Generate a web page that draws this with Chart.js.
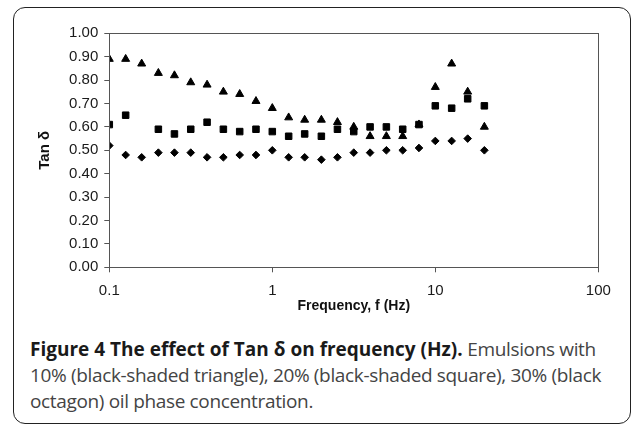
<!DOCTYPE html>
<html>
<head>
<meta charset="utf-8">
<script src="https://cdn.jsdelivr.net/npm/chart.js@4/dist/chart.umd.min.js"></script>
<style>
  html, body { margin: 0; padding: 0; background: #fff; width: 633px; height: 424px; overflow: hidden; }
  #wrap { position: relative; width: 633px; height: 424px; }
  #frame { position: absolute; left: 13px; top: 7px; width: 616px; height: 415px; border: 1.5px solid #222; border-radius: 12px; }
  #c { position: absolute; left: 0; top: 0; }
  #cap { position: absolute; left: 30px; top: 336px; font-family: "Open Sans", "Noto Sans", sans-serif; font-size: 19px; line-height: 26px; color: #444; white-space: nowrap; letter-spacing: -0.35px; }
  #cap b { color: #1a1a1a; font-weight: 700; letter-spacing: 0; }
</style>
</head>
<body>
<div id="wrap">
  <div id="frame"></div>
  <canvas id="c" width="633" height="320"></canvas>
  <div id="cap"><b>Figure 4 The effect of Tan δ on frequency (Hz).</b> Emulsions with<br>10% (black-shaded triangle), 20% (black-shaded square), 30% (black<br>octagon) oil phase concentration.</div>
</div>
<script>
const frequency = [0.1, 0.126, 0.158, 0.2, 0.251, 0.316, 0.398, 0.501, 0.631, 0.794, 1, 1.26, 1.58, 2, 2.51, 3.16, 3.98, 5.01, 6.31, 7.94, 10, 12.6, 15.8, 20];
const tan10 = [0.89, 0.89, 0.87, 0.83, 0.82, 0.79, 0.78, 0.75, 0.74, 0.71, 0.68, 0.64, 0.63, 0.63, 0.62, 0.60, 0.56, 0.56, 0.56, 0.61, 0.77, 0.87, 0.75, 0.60];
const tan20 = [0.61, 0.65, null, 0.59, 0.57, 0.59, 0.62, 0.59, 0.58, 0.59, 0.58, 0.56, 0.57, 0.56, 0.59, 0.58, 0.60, 0.60, 0.59, 0.61, 0.69, 0.68, 0.72, 0.69];
const tan30 = [0.52, 0.48, 0.47, 0.49, 0.49, 0.49, 0.47, 0.47, 0.48, 0.48, 0.50, 0.47, 0.47, 0.46, 0.47, 0.49, 0.49, 0.50, 0.50, 0.51, 0.54, 0.54, 0.55, 0.50];
const xTickValues = [0.1, 1, 10, 100];
const xTickLabels = ["0.1", "1", "10", "100"];
const yTickValues = [0, 0.1, 0.2, 0.3, 0.4, 0.5, 0.6, 0.7, 0.8, 0.9, 1.0];
const yTickLabels = ["0.00", "0.10", "0.20", "0.30", "0.40", "0.50", "0.60", "0.70", "0.80", "0.90", "1.00"];
const seriesNames = ["10%", "20%", "30%"];

function pts(arr) {
  const out = [];
  frequency.forEach((f, i) => { if (arr[i] !== null) out.push({ x: f, y: arr[i] }); });
  return out;
}

const boxPlugin = {
  id: 'box',
  afterDraw(chart) {
    const a = chart.chartArea, ctx = chart.ctx;
    ctx.save();
    ctx.strokeStyle = '#555';
    ctx.lineWidth = 1;
    ctx.strokeRect(Math.round(a.left) + 0.5, Math.round(a.top) + 0.5, Math.round(a.right - a.left), Math.round(a.bottom - a.top));
    ctx.restore();
  }
};

const tickFont = { family: "'Liberation Sans', Arial, sans-serif", size: 15 };

new Chart(document.getElementById('c'), {
  type: 'scatter',
  data: {
    datasets: [
      { label: seriesNames[0], data: pts(tan10), pointStyle: 'triangle', pointRadius: 4.6, backgroundColor: '#000', borderColor: '#000', borderWidth: 1 },
      { label: seriesNames[1], data: pts(tan20), pointStyle: 'rect', pointRadius: 4.6, backgroundColor: '#000', borderColor: '#000', borderWidth: 1 },
      { label: seriesNames[2], data: pts(tan30), pointStyle: 'rectRot', pointRadius: 3.8, backgroundColor: '#000', borderColor: '#000', borderWidth: 1 }
    ]
  },
  options: {
    responsive: false,
    animation: false,
    layout: { padding: { left: 30, right: 34.7, top: 33.3, bottom: 5.7 } },
    plugins: { legend: { display: false }, tooltip: { enabled: false } },
    scales: {
      x: {
        type: 'logarithmic',
        min: 0.1, max: 100,
        afterBuildTicks(scale) { scale.ticks = xTickValues.map(v => ({ value: v })); },
        afterFit(scale) { scale.height = 47; },
        ticks: { callback: (v, i) => xTickLabels[i], font: tickFont, color: '#1a1a1a', padding: 10, maxRotation: 0, autoSkip: false },
        grid: { display: true, drawOnChartArea: false, drawTicks: true, tickLength: 5, color: '#555' },
        border: { display: true, color: '#555', width: 1 },
        title: { display: true, text: 'Frequency, f (Hz)', font: { family: "'Liberation Sans Narrow', 'Liberation Sans', Arial, sans-serif", size: 14, weight: 'bold' }, color: '#111', padding: { top: 2, bottom: 0 } }
      },
      y: {
        min: 0, max: 1,
        afterBuildTicks(scale) { scale.ticks = yTickValues.map(v => ({ value: v })); },
        afterFit(scale) { scale.width = 79.3; },
        ticks: { callback: (v, i) => yTickLabels[i], font: tickFont, color: '#1a1a1a', padding: 6, autoSkip: false },
        grid: { display: true, drawOnChartArea: false, drawTicks: true, tickLength: 5, color: '#555' },
        border: { display: true, color: '#555', width: 1 },
        title: { display: true, text: 'Tan δ', font: { family: "'Liberation Sans', Arial, sans-serif", size: 15, weight: 'bold' }, color: '#111', padding: { top: 6, bottom: 0 } }
      }
    }
  },
  plugins: [boxPlugin]
});
</script>
</body>
</html>
